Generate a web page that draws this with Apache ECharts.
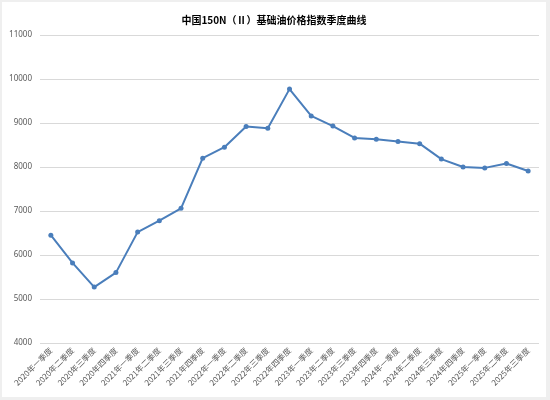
<!DOCTYPE html>
<html><head><meta charset="utf-8">
<script src="https://cdn.jsdelivr.net/npm/echarts@6/dist/echarts.min.js"></script>
<style>
html,body{margin:0;padding:0;background:#efefef;width:550px;height:400px;overflow:hidden}
#c{position:absolute;left:2px;top:2px;width:544px;height:395px;background:#fff}
</style></head><body><div id="c"></div>
<script>
const titleText = '中国150N（Ⅱ）基础油价格指数季度曲线';
const categories = ['2020年一季度','2020年二季度','2020年三季度','2020年四季度',
 '2021年一季度','2021年二季度','2021年三季度','2021年四季度',
 '2022年一季度','2022年二季度','2022年三季度','2022年四季度',
 '2023年一季度','2023年二季度','2023年三季度','2023年四季度',
 '2024年一季度','2024年二季度','2024年三季度','2024年四季度',
 '2025年一季度','2025年二季度','2025年三季度'];
const values = [6450,5820,5270,5600,6520,6780,7060,8200,8450,8920,8880,9770,
 9160,8930,8660,8630,8580,8530,8180,8000,7980,8080,7910];
const yMin = 4000, yMax = 11000, yStep = 1000;

const chart = echarts.init(document.getElementById('c'));
chart.setOption({
  animation:false,
  title:{text:titleText,left:'center',top:8,textStyle:{fontSize:10,fontWeight:'bold',color:'#000',fontFamily:'Noto Sans CJK SC'}},
  grid:{left:38,right:7,top:33,bottom:54,outerBoundsMode:'none',containLabel:false},
  xAxis:{type:'category',data:categories,boundaryGap:true,
    axisLine:{show:false},axisTick:{show:false},
    axisLabel:{rotate:45,fontSize:8,color:'#595959',interval:0,margin:6,fontFamily:'Noto Sans CJK SC'}},
  yAxis:{type:'value',min:yMin,max:yMax,interval:yStep,
    axisLine:{show:false},axisTick:{show:false},
    axisLabel:{fontSize:8,color:'#595959',margin:8,fontFamily:'Noto Sans',formatter:v=>String(v)},
    splitLine:{lineStyle:{color:'#d9d9d9',width:1}}},
  series:[{type:'line',data:values,symbol:'circle',symbolSize:5,
    lineStyle:{color:'#4a7ebb',width:2},itemStyle:{color:'#4a7ebb'}}]
});
</script></body></html>
